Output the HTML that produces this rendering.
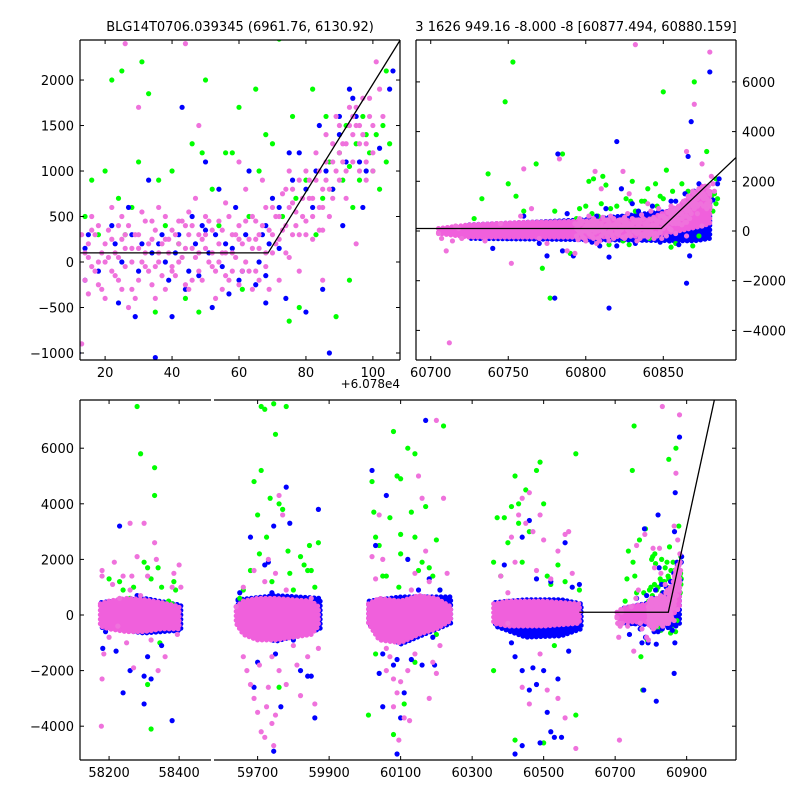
<!DOCTYPE html>
<html><head><meta charset="utf-8"><style>
body{margin:0;background:#fff}
svg{display:block;font-family:"DejaVu Sans","Liberation Sans",sans-serif}
</style></head><body>
<svg id="chart" width="800" height="800" viewBox="0 0 800 800">
<text x="240" y="31" font-size="13" text-anchor="middle">BLG14T0706.039345 (6961.76, 6130.92)</text>
<text x="576" y="31" font-size="13" text-anchor="middle">3 1626 949.16 -8.000 -8 [60877.494, 60880.159]</text>
<text x="400" y="388" font-size="12" text-anchor="end">+6.078e4</text>
</svg>
<script>
const NS="http://www.w3.org/2000/svg";
const svg=document.getElementById('chart');
const mjdOffset=60780;
// last epoch points (x relative to mjdOffset)
const ep5Pink=[13,-900,15,200,16,-50,17,300,18,-250,19,100,20,-400,21,50,22,250,23,-150,24,400,25,-300,26,150,27,-500,28,0,29,300,30,-200,31,550,32,100,33,-100,34,250,35,-50,36,600,37,200,38,-300,39,100,40,350,41,-150,42,450,43,50,44,2400,44,-250,45,300,46,150,47,700,48,-100,49,250,50,500,51,0,52,350,53,-400,54,200,55,100,56,650,57,-200,58,300,59,50,60,400,61,-100,62,800,63,250,64,-300,65,450,66,150,67,900,68,-50,69,350,70,600,71,200,72,-200,73,750,74,400,75,1000,76,300,77,550,78,-100,79,700,80,450,81,900,82,250,83,1200,84,600,85,800,86,1400,87,500,88,1100,89,1600,90,900,91,1300,92,700,93,1700,94,1100,95,1500,96,1000,97,1800,98,1300,99,1600,100,1200,101,2200,102,1900,48,1500,30,1700,26,2400,60,1100,85,-200,95,200,
14,100,16,350,18,0,20,200,22,-100,24,50,26,300,28,-300,30,150,32,-50,34,450,36,0,38,250,40,-100,42,200,44,400,46,-200,48,100,50,300,52,-50,54,450,56,100,58,-100,60,250,62,0,64,500,66,300,68,600,70,100,72,500,74,800,76,650,78,900,80,300,82,700,84,1000,86,900,88,700,90,1200,92,1000,94,1400,96,1300,98,900,100,1500,15,-350,25,500,35,-400,45,550,55,-300,65,-100,75,50,85,350,
13,300,14,-200,15,50,16,500,17,-100,18,400,19,-300,20,0,21,350,22,600,23,100,24,-200,25,250,26,-50,27,400,28,150,29,-400,30,300,31,0,32,450,33,200,34,-250,35,350,36,100,37,-150,38,500,39,250,40,-50,41,300,42,0,43,450,44,150,45,-300,46,400,47,50,48,300,49,-200,50,150,51,450,52,100,53,-100,54,0,55,350,56,-150,57,500,58,100,59,300,60,-250,61,200,62,450,63,-100,64,150,65,250,66,-200,67,400,68,100,69,-300,70,300,71,500,72,250,73,350,74,100,75,600,76,800,77,400,78,300,79,500,80,1000,81,700,82,500,83,900,84,350,85,600,86,1100,87,800,88,1300,89,1000,90,1500,91,1100,92,1300,93,1500,94,1600,95,1700,96,1500,97,1400,98,1100,99,1800,100,1000,103,1600,
-75,-100,-73,-300,-70,-800,-68,-4500,-66,-400,-64,200,-62,100,-60,-300,-45,-400,-35,300,-28,-1300,-22,600,-15,900,-10,-300,-5,-500,3,2900,8,-800,85,3200,52,7500,100,7200,-20,2500,90,5100,95,2700];
const ep5Blue=[14,150,18,-100,22,400,24,-450,27,600,29,-600,31,200,33,900,35,-1050,37,300,39,-200,41,100,43,1700,44,-300,46,500,48,-150,50,350,52,-500,54,800,56,200,57,-350,59,600,61,-100,63,1000,65,-250,67,300,68,-450,70,700,72,150,74,-400,76,900,78,1200,80,-550,82,600,84,1500,85,-300,86,1000,87,-1000,88,800,90,1400,91,400,92,1100,94,1800,96,1100,97,600,98,1000,102,1250,105,1900,106,2100,40,-600,50,1100,60,-200,
14,-200,15,300,23,200,25,0,28,300,30,-100,34,100,36,200,38,0,42,300,45,-100,47,200,49,400,51,100,53,300,55,-50,58,150,62,300,66,0,68,-150,68,400,69,200,72,600,75,1200,80,800,83,1000,90,1600,93,1900,95,1600,
-48,-300,-40,-700,-30,-300,-20,600,-10,-500,-5,-1000,0,-2700,2,3100,5,-800,8,700,12,-1000,86,3000,88,4400,40,3600,100,6400,35,-3100,85,-2100];
const ep5Green=[14,500,16,900,18,300,20,1000,22,2000,24,700,25,2100,26,300,28,600,30,1100,31,2200,33,1850,35,-550,36,900,38,400,40,1000,42,200,44,-400,46,1300,48,-550,49,1200,50,2000,52,800,54,400,56,1200,58,1200,60,1700,61,-300,63,500,65,1900,66,1000,68,1400,70,1300,72,2450,73,500,75,-650,76,1600,77,700,78,-500,80,900,82,1900,83,300,85,700,87,1100,88,800,90,1200,91,900,92,1500,93,1050,94,600,95,1300,96,900,97,1600,98,1400,99,1200,100,1000,101,1400,102,800,103,1500,104,1100,105,1300,104,2100,89,-600,93,-200,86,1600,
-52,500,-47,1300,-43,2300,-30,1900,-25,1400,-20,800,-12,2700,-8,-1500,-3,-2700,0,800,5,3100,10,-900,-27,6800,-32,5200,90,6000,70,5600,98,3200];
// earlier epochs (absolute MJD)
const oldPink=[58180,1600,58180,1400,58185,-1400,58180,-2300,58178,-4000,58210,1100,58215,1900,58225,-400,58230,600,58240,1400,58250,-1000,58260,900,58265,1400,58270,-1900,58280,2100,58290,700,58300,3300,58310,1400,58320,-900,58330,2600,58335,2000,58340,-2000,58360,-1500,58380,1000,58385,1500,58395,-700,58400,1800,58405,1000,58260,3300,58200,-800,
59660,-1500,59670,-2000,59680,-2500,59690,-3000,59700,-3500,59705,-1800,59710,-4200,59720,-4400,59725,-3300,59730,-2600,59740,-3900,59745,-4700,59750,-3600,59760,-2000,59740,-1500,59720,1200,59730,2000,59750,1500,59760,4300,59770,3600,59780,900,59800,-1100,59820,-2900,59840,-1500,59860,-3200,59870,-1200,59660,1000,59690,1600,59640,300,59850,600,59780,-2500,59810,-1800,
60020,2100,60030,1300,60050,2000,60060,-1200,60070,-1500,60080,-2300,60090,-2800,60100,-2400,60110,-3700,60120,-2000,60130,900,60140,1500,60150,5000,60160,4200,60170,2300,60180,1200,60190,-1700,60200,7000,60210,-1100,60220,4200,60230,1500,60040,3600,60060,-2000,60080,-3300,60095,-4500,60125,-3800,60140,-1400,60180,-3000,60200,-2100,
60380,1400,60400,800,60410,2800,60420,1900,60430,3600,60440,4200,60450,3300,60460,4400,60470,3000,60480,1600,60490,3600,60500,2700,60520,1300,60540,2300,60560,2900,60570,3000,60580,1500,60440,-2600,60460,-3200,60490,-1400,60510,-2700,60540,-3000,60560,-3700,60590,-4800,60400,-300];
const oldBlue=[58180,-300,58182,-1200,58190,-600,58220,-1300,58230,3200,58240,-2800,58260,-2000,58280,700,58290,500,58300,-2200,58300,-3200,58310,-1500,58320,-2300,58330,200,58350,-1100,58380,-3800,58390,200,58400,-400,
59650,800,59655,400,59665,300,59680,2800,59690,-2600,59700,600,59720,1800,59730,1900,59740,800,59745,3200,59750,-1400,59760,-800,59765,-3300,59780,4600,59790,3300,59800,-900,59820,-2000,59840,-2200,59850,-2200,59860,-3700,59870,3800,59745,-4900,59700,-1700,
60020,5200,60030,2500,60040,-2100,60050,-1400,60060,4300,60080,-1800,60090,-1600,60100,-3700,60110,-2800,60120,2000,60130,-1600,60150,900,60160,-1800,60170,7000,60180,1300,60190,-800,60195,-1800,60210,900,60220,300,60050,-3300,60090,-5000,
60390,1800,60420,400,60440,2800,60460,3400,60480,1300,60500,-2000,60520,1200,60540,-2300,60560,2600,60580,1000,60600,1100,60420,-1500,60440,-2000,60460,-2700,60470,-1900,60480,-2500,60510,-3500,60520,-4200,60530,-4400,60550,-4400,60570,-1300,60420,-5000,60440,-4700,60490,-4600,60410,-1000];
const oldGreen=[58200,1300,58230,1200,58240,900,58260,600,58270,1000,58280,7500,58290,5800,58300,1900,58310,1700,58320,1300,58330,4300,58330,5300,58340,1700,58350,1000,58360,400,58370,500,58380,400,58385,1200,58390,900,58320,-4100,58310,-2500,58345,-1000,
59650,600,59660,900,59680,1600,59690,4800,59700,3600,59705,2200,59710,5200,59710,7500,59720,7400,59725,2800,59735,4200,59745,7600,59750,6500,59760,4000,59770,3800,59780,7500,59785,2300,59790,1500,59800,900,59820,2100,59830,1800,59840,1600,59845,2500,59850,1600,59870,2600,59860,1000,59760,-2600,59790,-600,59740,1200,
60020,4800,60025,3700,60030,2800,60040,2500,60050,1400,60060,1400,60070,3500,60080,6600,60090,5000,60095,1000,60100,4900,60100,2900,60100,2200,60110,-3200,60120,6000,60130,3700,60140,2800,60140,5800,60150,1600,60160,1900,60170,3900,60180,1700,60190,1400,60200,2700,60210,900,60220,6800,60230,200,60010,-3600,60030,-1400,60080,-4300,60110,-5300,60140,-1700,60200,-700,
60360,1900,60370,3500,60380,1400,60390,3500,60400,2600,60410,3900,60420,5000,60430,4000,60430,3300,60440,1900,60450,4500,60460,3000,60480,5200,60490,5500,60500,4000,60510,1400,60520,1100,60540,1800,60560,1200,60590,5800,60600,900,60360,-2000,60420,-4500,60500,-4600,60590,-3600,60530,-1100];
// dense cores: [x, low, high]
const pinkBands=[
 [[58175,-400,400],[58200,-500,500],[58250,-600,600],[58300,-600,550],[58350,-500,450],[58400,-500,300]],
 [[59640,-300,300],[59660,-700,500],[59700,-900,600],[59750,-900,600],[59800,-800,550],[59850,-700,500],[59870,-400,300]],
 [[60010,-300,400],[60040,-900,600],[60100,-1000,500],[60150,-700,700],[60200,-500,600],[60240,-200,300]],
 [[60360,-300,400],[60400,-400,500],[60500,-400,500],[60600,-300,400]],
 [[60705,-100,100],[60725,-250,250],[60760,-250,350],[60800,-250,400],[60840,-200,450],[60860,0,1000],[60875,200,1800],[60880,300,1600]]];
const blueBands=[
 [[58178,-450,450],[58300,-650,600],[58405,-550,350]],
 [[59645,-350,550],[59750,-950,700],[59875,-500,600]],
 [[60012,-350,500],[60100,-1050,650],[60240,-300,650]],
 [[60365,-400,450],[60450,-800,550],[60550,-750,550],[60605,-500,400]],
 [[60725,-300,250],[60800,-350,450],[60870,-400,900],[60880,-300,1400]]];
const fitX=[60600,60848.7,61100];
const fitY=[100,100,15000];
const bottomXTicks=[58200,58400,59700,59900,60100,60300,60500,60700,60900];

const axes={
 tl:{x0:12.5,x1:108.1,px0:80,px1:400,y0:-1077,y1:2440,py0:360,py1:40,rel:true},
 tr:{x0:60690.5,x1:60896.9,px0:416,px1:736,y0:-5191,y1:7686,py0:360,py1:40,rel:false},
 bl:{x0:58117,x1:58491,px0:80,px1:211,y0:-5216,y1:7734,py0:760,py1:400,rel:false},
 br:{x0:59578,x1:61038,px0:214,px1:736,y0:-5216,y1:7734,py0:760,py1:400,rel:false}};
function sx(a,v){return a.px0+(v-a.x0)/(a.x1-a.x0)*(a.px1-a.px0);}
function sy(a,v){return a.py0+(v-a.y0)/(a.y1-a.y0)*(a.py1-a.py0);}
function mk(tag,attrs,parent){const e=document.createElementNS(NS,tag);for(const k in attrs)e.setAttribute(k,attrs[k]);(parent||svg).appendChild(e);return e;}
const defs=mk('defs',{});
const PINK='#ef72dc';
function drawPanel(key,a){
 const cp=mk('clipPath',{id:'cp-'+key},defs);
 mk('rect',{x:a.px0,y:a.py1,width:a.px1-a.px0,height:a.py0-a.py1},cp);
 const g=mk('g',{'clip-path':'url(#cp-'+key+')'});
 
 
 const xv=(v,isRel)=>a.rel?(isRel?v:v-mjdOffset):(isRel?v+mjdOffset:v);
 function bands(list,color,name){
  if(a.rel)return;
  list.forEach(b=>{
   const pts=b.map(p=>sx(a,xv(p[0],false))+','+sy(a,p[2])).concat(b.slice().reverse().map(p=>sx(a,xv(p[0],false))+','+sy(a,p[1])));
   const e=mk('polygon',{points:pts.join(' '),fill:color,stroke:color,'stroke-width':5,'stroke-linecap':'round','stroke-dasharray':'0 4.5'},g);
   
   
  });
 }
 function pts(arr,isRel,color,name){
  for(let i=0;i<arr.length;i+=2){
   const c=mk('circle',{cx:sx(a,xv(arr[i],isRel)),cy:sy(a,arr[i+1]),r:2.6,fill:color},g);
   
   
  }
 }
 bands(blueBands,'#0000ff','blue-core-band');
 pts(oldGreen,false,'#00ff00','green-point');pts(ep5Green,true,'#00ff00','green-point');
 pts(oldBlue,false,'#0000ff','blue-point');pts(ep5Blue,true,'#0000ff','blue-point');
 bands(pinkBands,'#f060dc','pink-core-band');
 pts(oldPink,false,PINK,'pink-point');pts(ep5Pink,true,PINK,'pink-point');
 const lp=fitX.map((x,i)=>sx(a,xv(x,false))+','+sy(a,fitY[i])).join(' ');
 const ln=mk('polyline',{points:lp,fill:'none',stroke:'#000','stroke-width':1.3},g);
 
 
}
for(const k in axes)drawPanel(k,axes[k]);
function frame(a,sides,name){
 const f=mk('g',{stroke:'#000','stroke-width':1.2,fill:'none'});
 
 
 if(sides.includes('t'))mk('line',{x1:a.px0,y1:a.py1,x2:a.px1,y2:a.py1},f);
 if(sides.includes('b'))mk('line',{x1:a.px0,y1:a.py0,x2:a.px1,y2:a.py0},f);
 if(sides.includes('l'))mk('line',{x1:a.px0,y1:a.py1,x2:a.px0,y2:a.py0},f);
 if(sides.includes('r'))mk('line',{x1:a.px1,y1:a.py1,x2:a.px1,y2:a.py0},f);
}
function xticks(a,vals,name){
 vals.forEach(v=>{
  const x=sx(a,v);
  mk('line',{x1:x,y1:a.py0,x2:x,y2:a.py0-4,stroke:'#000'});
  mk('line',{x1:x,y1:a.py1,x2:x,y2:a.py1+4,stroke:'#000'});
  const t=mk('text',{x:x,y:a.py0+17,'font-size':13,'text-anchor':'middle'});
  t.textContent=String(v);
  
  
 });
}
function yticks(a,vals,side,tickSides,labels,name){
 vals.forEach(v=>{
  const y=sy(a,v);
  if(tickSides.includes('l'))mk('line',{x1:a.px0,y1:y,x2:a.px0+4,y2:y,stroke:'#000'});
  if(tickSides.includes('r'))mk('line',{x1:a.px1,y1:y,x2:a.px1-4,y2:y,stroke:'#000'});
  if(!labels)return;
  const lab=(v<0?'\u2212'+(-v):String(v));
  const t=mk('text',{x:side==='l'?a.px0-6:a.px1+6,y:y+5,'font-size':13,'text-anchor':side==='l'?'end':'start'});
  t.textContent=lab;
  
  
 });
}
const tlXTicks=[20,40,60,80,100],tlYTicks=[-1000,-500,0,500,1000,1500,2000];
const trXTicks=[60700,60750,60800,60850],bigYTicks=[-4000,-2000,0,2000,4000,6000];
frame(axes.tl,'tblr','top-left-axes-frame');xticks(axes.tl,tlXTicks,'x-tick-label');yticks(axes.tl,tlYTicks,'l','lr',true,'y-tick-label');
frame(axes.tr,'tblr','top-right-axes-frame');xticks(axes.tr,trXTicks,'x-tick-label');yticks(axes.tr,bigYTicks,'r','lr',true,'y-tick-label');
frame(axes.bl,'tbl','bottom-left-axes-frame');xticks(axes.bl,bottomXTicks.filter(v=>v<58500),'x-tick-label');yticks(axes.bl,bigYTicks,'l','l',true,'y-tick-label');
frame(axes.br,'tbr','bottom-right-axes-frame');xticks(axes.br,bottomXTicks.filter(v=>v>59500),'x-tick-label');yticks(axes.br,bigYTicks,'r','r',false,'y-tick');
</script>
</body></html>
